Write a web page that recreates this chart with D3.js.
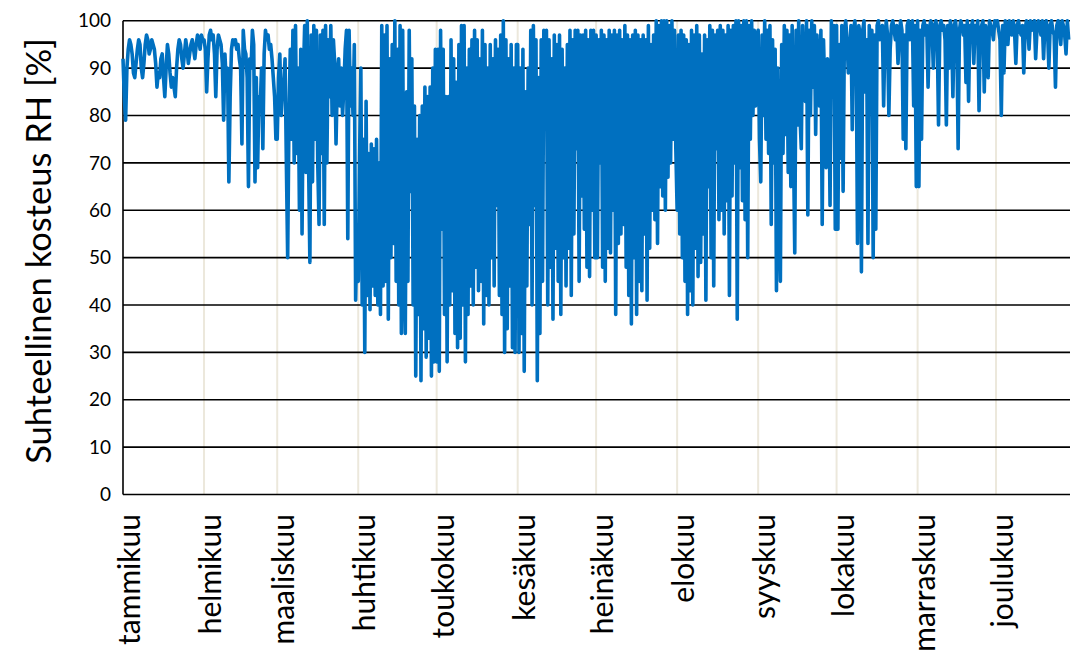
<!DOCTYPE html>
<html>
<head>
<meta charset="utf-8">
<script src="https://cdn.jsdelivr.net/npm/d3@7"></script>
<style>
  html, body { margin: 0; padding: 0; background: #ffffff; }
  svg { display: block; }
  text { font-family: Lato, "Open Sans", sans-serif; fill: #000; }
</style>
</head>
<body>
<svg id="chart" width="1076" height="652"></svg>
<script>
// Relative humidity (RH %), twice-daily samples for each month of the year
const monthNames = ["tammikuu", "helmikuu", "maaliskuu", "huhtikuu", "toukokuu", "kesäkuu",
                    "heinäkuu", "elokuu", "syyskuu", "lokakuu", "marraskuu", "joulukuu"];
const monthStartDays = [0, 31, 59, 90, 120, 151, 181, 212, 243, 273, 304, 334];
const lastDay = 362.3;
const yTicks = [0, 10, 20, 30, 40, 50, 60, 70, 80, 90, 100];

const rhJan = [92, 84, 79, 90, 94, 96, 95, 93, 89, 88, 91, 94, 96, 95, 90, 88, 91, 95, 97, 96, 93, 94, 96, 95, 94, 91, 86, 89, 88, 92, 93, 88, 84, 90, 95, 93, 89, 86, 88, 86, 84, 90, 94, 96, 95, 92, 90, 93, 96, 94, 91, 93, 95, 96, 94, 92, 95, 97, 96, 94, 97, 96];
const rhFeb = [96, 94, 85, 92, 97, 98, 96, 97, 93, 84, 94, 97, 96, 95, 91, 79, 93, 87, 90, 66, 84, 94, 96, 95, 96, 94, 95, 92, 90, 74, 98, 94, 93, 88, 65, 92, 90, 98, 95, 66, 88, 69, 84, 82, 90, 73, 93, 98, 96, 97, 94, 95, 92, 88, 84, 75];
const rhMar = [75, 88, 93, 80, 85, 87, 92, 70, 50, 80, 94, 75, 98, 70, 99, 72, 90, 60, 94, 55, 88, 99, 68, 100, 70, 49, 97, 66, 99, 75, 98, 70, 57, 97, 72, 98, 57, 99, 70, 96, 84, 99, 80, 96, 91, 74, 88, 92, 82, 90, 80, 86, 94, 98, 54, 98, 82, 90, 80, 95, 41, 55];
const rhApr = [45, 71, 90, 40, 75, 30, 83, 42, 72, 39, 74, 44, 73, 42, 75, 40, 70, 38, 99, 44, 97, 45, 99, 37, 92, 50, 95, 53, 100, 45, 94, 40, 99, 34, 98, 48, 34, 85, 45, 98, 64, 92, 40, 82, 25, 75, 38, 80, 24, 82, 35, 86, 29, 84, 33, 86, 25, 90, 28, 94];
const rhMay = [28, 94, 26, 98, 56, 94, 38, 84, 28, 84, 40, 96, 43, 92, 34, 87, 31, 95, 33, 99, 40, 99, 28, 90, 38, 94, 44, 96, 40, 98, 48, 96, 43, 92, 45, 98, 36, 95, 42, 90, 40, 95, 50, 92, 44, 96, 61, 94, 42, 97, 38, 100, 30, 96, 35, 92, 44, 95, 31, 90, 30, 95];
const rhJun = [95, 30, 90, 34, 94, 26, 85, 44, 90, 57, 98, 40, 99, 61, 96, 24, 88, 34, 96, 45, 98, 78, 98, 40, 96, 48, 92, 37, 97, 52, 95, 45, 97, 38, 94, 50, 90, 44, 95, 52, 98, 42, 96, 55, 98, 73, 98, 45, 97, 63, 97, 56, 98, 48, 96, 46, 98, 60, 98, 50];
const rhJul = [97, 50, 96, 70, 98, 48, 97, 45, 96, 52, 98, 51, 97, 60, 98, 38, 97, 53, 98, 55, 96, 57, 99, 48, 97, 42, 96, 36, 97, 50, 98, 38, 97, 45, 96, 43, 97, 55, 96, 41, 99, 52, 95, 60, 97, 58, 100, 53, 99, 65, 100, 63, 100, 60, 100, 67, 99, 70, 100, 75, 98, 73];
const rhAug = [60, 97, 55, 98, 50, 97, 45, 96, 38, 95, 43, 98, 40, 97, 52, 99, 46, 97, 49, 93, 55, 97, 41, 96, 65, 99, 50, 98, 44, 97, 73, 98, 58, 99, 60, 98, 55, 97, 62, 99, 42, 98, 63, 99, 70, 100, 37, 100, 69, 99, 62, 100, 58, 100, 50, 99, 75, 100, 80, 98, 82, 97];
const rhSep = [98, 75, 66, 97, 80, 100, 75, 98, 72, 99, 57, 96, 70, 94, 43, 90, 60, 45, 95, 72, 99, 76, 98, 68, 97, 65, 99, 74, 51, 98, 78, 100, 80, 73, 99, 84, 83, 100, 59, 98, 80, 100, 86, 99, 76, 97, 88, 82, 98, 57, 96, 85, 69, 92, 88, 61, 100, 84, 99, 56];
const rhOct = [99, 56, 95, 71, 99, 64, 98, 100, 96, 89, 92, 99, 77, 98, 100, 95, 53, 99, 97, 47, 98, 100, 85, 96, 53, 99, 90, 98, 50, 97, 56, 99, 100, 96, 98, 99, 82, 96, 100, 97, 80, 94, 99, 100, 98, 96, 99, 91, 97, 100, 98, 75, 97, 73, 99, 100, 96, 98, 100, 82, 99, 65];
const rhNov = [100, 65, 98, 75, 99, 100, 97, 99, 86, 98, 100, 99, 90, 99, 100, 97, 78, 99, 100, 98, 99, 96, 78, 99, 90, 100, 98, 84, 99, 100, 97, 73, 98, 100, 99, 97, 99, 87, 100, 83, 99, 98, 100, 91, 99, 97, 100, 81, 98, 99, 100, 85, 99, 97, 88, 100, 99, 98, 96, 100];
const rhDec = [99, 100, 98, 96, 80, 99, 89, 100, 98, 95, 100, 99, 97, 100, 98, 91, 99, 100, 98, 97, 99, 89, 98, 100, 99, 94, 100, 98, 99, 100, 92, 98, 100, 99, 97, 100, 92, 99, 100, 98, 90, 99, 100, 98, 97, 86, 99, 100, 98, 95, 100, 99, 97, 93, 100, 96];

const monthly = [rhJan, rhFeb, rhMar, rhApr, rhMay, rhJun, rhJul, rhAug, rhSep, rhOct, rhNov, rhDec];

// Samples of each month are spread evenly over that month's days
const series = [];
monthly.forEach((vals, m) => {
  const start = monthStartDays[m];
  const end = m < 11 ? monthStartDays[m + 1] : lastDay;
  vals.forEach((v, i) => series.push({ day: start + (end - start) * i / vals.length, rh: v }));
});

const svg = d3.select("#chart");
const plotLeft = 123, plotRight = 1070, plotTop = 20.8, plotBottom = 494.5;

const x = d3.scaleLinear().domain([0, lastDay]).range([plotLeft, plotRight]);
const y = d3.scaleLinear().domain([0, 100]).range([plotBottom, plotTop]);

// vertical month gridlines
svg.append("g")
  .selectAll("line")
  .data(monthStartDays.slice(1))
  .join("line")
  .attr("x1", d => x(d)).attr("x2", d => x(d))
  .attr("y1", plotTop).attr("y2", plotBottom)
  .attr("stroke", "#ECE8DC").attr("stroke-width", 2);

// horizontal gridlines
svg.append("g")
  .selectAll("line")
  .data(yTicks)
  .join("line")
  .attr("x1", plotLeft).attr("x2", plotRight)
  .attr("y1", d => y(d)).attr("y2", d => y(d))
  .attr("stroke", "#000").attr("stroke-width", 1.6);

// left axis line
svg.append("line")
  .attr("x1", plotLeft).attr("x2", plotLeft)
  .attr("y1", plotTop).attr("y2", plotBottom)
  .attr("stroke", "#000").attr("stroke-width", 1.6);

// y tick labels
const yAxis = d3.axisLeft(y).tickValues(yTicks).tickSize(0).tickPadding(12);
svg.append("g")
  .attr("transform", `translate(${plotLeft},0)`)
  .call(yAxis)
  .call(g => g.select(".domain").remove())
  .selectAll("text")
  .style("font-family", "Lato, 'Open Sans', sans-serif")
  .style("font-size", "19px")
  .attr("fill", "#000");

// RH line
const line = d3.line().x(d => x(d.day)).y(d => y(d.rh));
svg.append("path")
  .datum(series)
  .attr("d", line)
  .attr("fill", "none")
  .attr("stroke", "#0070C0")
  .attr("stroke-width", 3.6)
  .attr("stroke-linejoin", "round");

// month labels, rotated
svg.append("g")
  .selectAll("text")
  .data(monthNames)
  .join("text")
  .attr("transform", (d, i) => `translate(${x(monthStartDays[i]) + 5},514) rotate(-90)`)
  .attr("text-anchor", "end")
  .attr("dominant-baseline", "central")
  .style("font-size", "30px")
  .text(d => d);

// y axis title
svg.append("text")
  .attr("transform", `translate(37,251) rotate(-90)`)
  .attr("text-anchor", "middle")
  .attr("dominant-baseline", "central")
  .style("font-size", "34.5px")
  .text("Suhteellinen kosteus RH [%]");
</script>
</body>
</html>
